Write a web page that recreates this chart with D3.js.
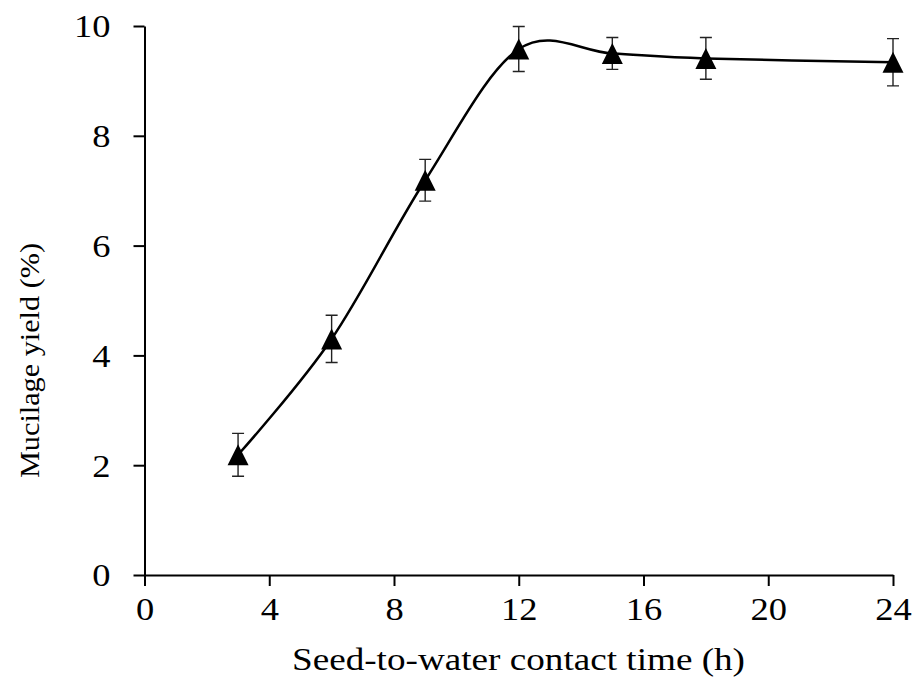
<!DOCTYPE html>
<html>
<head>
<meta charset="utf-8">
<script src="https://cdn.jsdelivr.net/npm/d3@7"></script>
<style>
	body { margin: 0; background: #fff; }
	text { font-family: "Liberation Serif", "Times New Roman", serif; fill: #000; }
</style>
</head>
<body>
<div id="chart"></div>
<script>
const width = 915;
const height = 688;

// contact time (h), yield (%), error (+/-)
const hours = [3, 6, 9, 12, 15, 18, 24];
const yieldPct = [2.19, 4.30, 7.19, 9.58, 9.50, 9.41, 9.34];
const yieldErr = [0.39, 0.43, 0.38, 0.41, 0.29, 0.38, 0.43];
const xTicks = [0, 4, 8, 12, 16, 20, 24];
const yTicks = [0, 2, 4, 6, 8, 10];

const xTitle = "Seed-to-water contact time (h)";
const yTitle = "Mucilage yield (%)";

const data = hours.map((h, i) => ({ h: h, v: yieldPct[i], e: yieldErr[i] }));

// the original picture is a little stretched sideways
const stretch = 1.14;

const svg = d3
	.select("#chart")
	.append("svg")
	.attr("width", width)
	.attr("height", height)
	.attr("font-family", "Liberation Serif, Times New Roman, serif");

const x = d3.scaleLinear().domain([0, 24]).range([144.5, 893]);
const y = d3.scaleLinear().domain([0, 10]).range([575, 26]);

// axes
const xAxis = svg
	.append("g")
	.attr("transform", `translate(0, ${y(0)})`)
	.call(d3.axisBottom(x).tickValues(xTicks).tickSize(11).tickPadding(11).tickSizeOuter(0));
const yAxis = svg
	.append("g")
	.attr("transform", `translate(${x(0)}, 0)`)
	.call(d3.axisLeft(y).tickValues(yTicks).tickSize(11).tickPadding(23).tickSizeOuter(0));

[xAxis, yAxis].forEach((a) => {
	a.attr("font-family", "Liberation Serif, Times New Roman, serif");
	a.select(".domain").attr("stroke", "#000").attr("stroke-width", 2);
	a.selectAll(".tick line").attr("stroke", "#000").attr("stroke-width", 2);
	a.selectAll(".tick text")
		.attr("font-size", 32)
		.attr("fill", "#000")
		.attr("transform", `scale(${stretch}, 1)`);
});
xAxis.selectAll(".tick text").attr("dy", "0.71em");
yAxis.selectAll(".tick text").attr("dy", "0.34em").attr("x", -34 / stretch);

// smoothed line
const line = d3
	.line()
	.x((d) => x(d.h))
	.y((d) => y(d.v))
	.curve(d3.curveCatmullRom.alpha(0));

svg.append("path")
	.datum(data)
	.attr("fill", "none")
	.attr("stroke", "#000")
	.attr("stroke-width", 2.5)
	.attr("d", line);

// error bars
const bars = svg.append("g").attr("stroke", "#222").attr("stroke-width", 1.4);
bars.selectAll(".ebar")
	.data(data)
	.enter()
	.append("path")
	.attr("class", "ebar")
	.attr("fill", "none")
	.attr("d", (d) => {
		const cx = x(d.h);
		const top = y(d.v + d.e);
		const bot = y(d.v - d.e);
		return `M${cx - 6},${top}H${cx + 6}M${cx},${top}V${bot}M${cx - 6},${bot}H${cx + 6}`;
	});

// triangle markers, centred on their box like the spreadsheet ones
const triangle = {
	draw(ctx, size) {
		const r = Math.sqrt(size) / 2;
		ctx.moveTo(0, -r);
		ctx.lineTo(r, r);
		ctx.lineTo(-r, r);
		ctx.closePath();
	},
};

svg.append("g")
	.selectAll(".marker")
	.data(data)
	.enter()
	.append("path")
	.attr("class", "marker")
	.attr("fill", "#000")
	.attr("transform", (d) => `translate(${x(d.h)}, ${y(d.v)})`)
	.attr("d", d3.symbol().type(triangle).size(21 * 21));

// titles
svg.append("text")
	.attr("x", 518.5)
	.attr("y", 670)
	.attr("text-anchor", "middle")
	.attr("font-size", 32)
	.attr("textLength", 453)
	.attr("lengthAdjust", "spacingAndGlyphs")
	.text(xTitle);

svg.append("text")
	.attr("transform", "translate(39, 360.5) rotate(-90)")
	.attr("text-anchor", "middle")
	.attr("font-size", 28)
	.attr("textLength", 235)
	.attr("lengthAdjust", "spacingAndGlyphs")
	.text(yTitle);
</script>
</body>
</html>
